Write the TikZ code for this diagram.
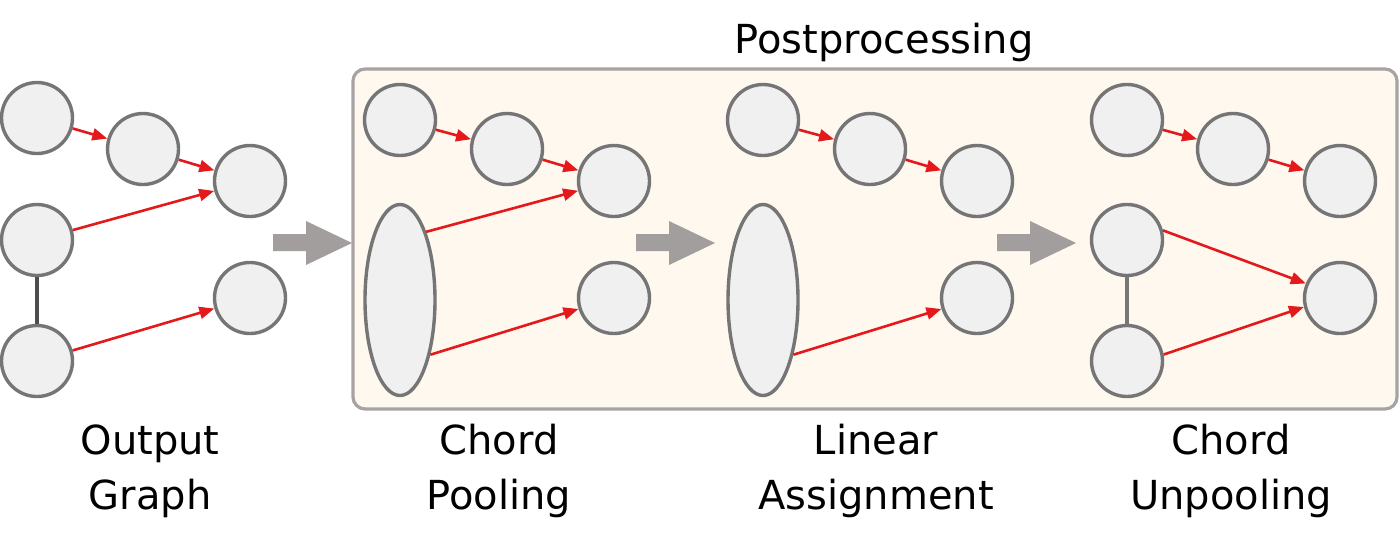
\documentclass[tikz,border=0pt]{standalone}
\usepackage{fontspec}
\setmainfont{DejaVu Sans}
\usetikzlibrary{arrows.meta,shapes.geometric}
\definecolor{nodefill}{HTML}{F0F0F0}
\definecolor{nodeline}{HTML}{757575}
\definecolor{redarrow}{HTML}{E3191C}
\definecolor{boxfill}{HTML}{FEF8EF}
\definecolor{boxline}{HTML}{A8A3A3}
\definecolor{bigarrow}{HTML}{A39E9E}
\definecolor{linkdark}{HTML}{4D4D4D}
\definecolor{linkgray}{HTML}{777777}
\begin{document}
\begin{tikzpicture}[x=0.5pt,y=-0.5pt,
  gnode/.style={circle,draw=nodeline,fill=nodefill,line width=1.7pt,minimum size=35.5pt,inner sep=0pt},
  chord/.style={ellipse,draw=nodeline,fill=nodefill,line width=1.7pt,minimum width=35pt,minimum height=95.5pt,inner sep=0pt},
  flow/.style={draw=redarrow,line width=1.3pt,-{Triangle[length=7.5pt,width=6pt]}},
  link/.style={line width=1.6pt},
  lbl/.style={font=\fontsize{20}{27.5}\selectfont,align=center,inner sep=0pt},
  panel/.style={draw=boxline,fill=boxfill,line width=1.6pt,rounded corners=6pt},
  blockarrow/.style={fill=bigarrow}]
\useasboundingbox (0,0) rectangle (1400,552);

% big gray arrows
\fill[blockarrow] (273,234) -- (306,234) -- (306,221) -- (352,243) -- (306,265) -- (306,251) -- (273,251) -- cycle;
% postprocessing box
\draw[panel] (353,69) rectangle (1397,409);
\fill[blockarrow,shift={(363,0)}] (273,234) -- (306,234) -- (306,221) -- (352,243) -- (306,265) -- (306,251) -- (273,251) -- cycle;
\fill[blockarrow,shift={(724,0)}] (273,234) -- (306,234) -- (306,221) -- (352,243) -- (306,265) -- (306,251) -- (273,251) -- cycle;

% panel 1: output graph
\node[gnode] (a1) at (37,118) {};
\node[gnode] (b1) at (143,149) {};
\node[gnode] (c1) at (250,181) {};
\node[gnode] (d1) at (37,240) {};
\node[gnode] (e1) at (250,298) {};
\node[gnode] (f1) at (37,361) {};
\draw[link,draw=linkdark] (d1) -- (f1);
\draw[flow] (a1) -- (b1);
\draw[flow] (b1) -- (c1);
\draw[flow] (d1) -- (c1);
\draw[flow] (f1) -- (e1);

% panel 2: chord pooling
\node[gnode] (a2) at (400,120) {};
\node[gnode] (b2) at (507,149) {};
\node[gnode] (c2) at (614,181) {};
\node[chord] (g2) at (400,300) {};
\node[gnode] (e2) at (614,298) {};
\draw[flow] (a2) -- (b2);
\draw[flow] (b2) -- (c2);
\draw[flow] (g2.69) -- (c2);
\draw[flow] (g2.-61) -- (e2);

% panel 3: linear assignment
\node[gnode] (a3) at (763,120) {};
\node[gnode] (b3) at (870,149) {};
\node[gnode] (c3) at (977,181) {};
\node[chord] (g3) at (763,300) {};
\node[gnode] (e3) at (977,298) {};
\draw[flow] (a3) -- (b3);
\draw[flow] (b3) -- (c3);
\draw[flow] (g3.-61) -- (e3);

% panel 4: chord unpooling
\node[gnode] (a4) at (1127,120) {};
\node[gnode] (b4) at (1233,149) {};
\node[gnode] (c4) at (1340,181) {};
\node[gnode] (d4) at (1127,240) {};
\node[gnode] (e4) at (1340,298) {};
\node[gnode] (f4) at (1127,361) {};
\draw[link,draw=linkgray] (d4) -- (f4);
\draw[flow] (a4) -- (b4);
\draw[flow] (b4) -- (c4);
\draw[flow] (d4.15) -- (e4.157);
\draw[flow] (f4.10) -- (e4.-166);

% labels
\node[lbl,anchor=base] (tpost) at (884,53) {Postprocessing};
\node[lbl,anchor=base] (t1) at (150,509) {Output\\Graph};
\node[lbl,anchor=base] (t2) at (499,509) {Chord\\Pooling};
\node[lbl,anchor=base] (t3) at (876,509) {Linear\\Assignment};
\node[lbl,anchor=base] (t4) at (1231,509) {Chord\\Unpooling};
\end{tikzpicture}
\end{document}
